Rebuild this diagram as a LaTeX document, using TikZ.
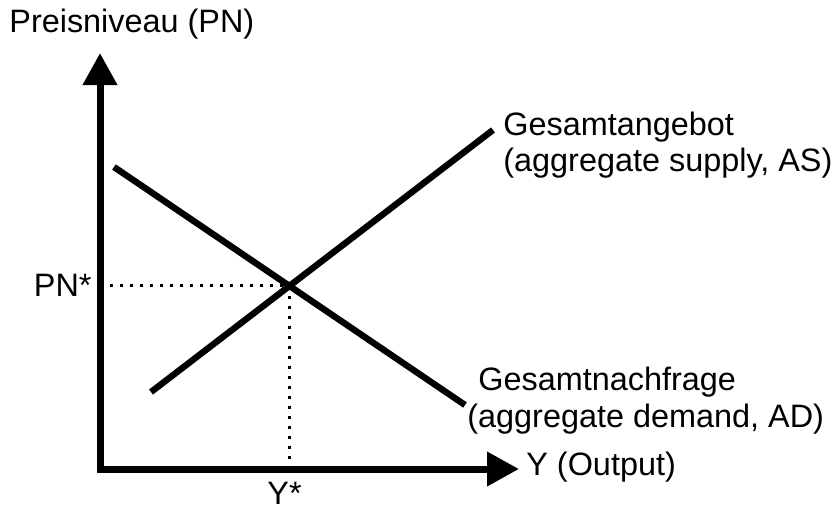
\documentclass[tikz,border=0pt]{standalone}
\usepackage{fontspec}
\setmainfont{Liberation Sans}
\usetikzlibrary{arrows.meta}

\begin{document}
\begin{tikzpicture}[x=0.5pt, y=-0.5pt,
    axis/.style={line width=3.5pt, line join=miter,
      arrows={Triangle[length=16pt, width=16.5pt]-Triangle[length=16pt, width=16.5pt]}},
    curve/.style={line width=3.2pt},
    guide/.style={line width=1.5pt, dash pattern=on 1.5pt off 3.5pt},
    label/.style={inner sep=0pt, font=\fontsize{16.2pt}{18.4pt}\selectfont}]
  \useasboundingbox (0, 0) rectangle (835, 510);
  % Axes
  \coordinate (ytip) at (100, 53);
  \coordinate (origin) at (100, 469);
  \coordinate (xtip) at (519, 469);
  \draw [axis] (ytip) -- (origin) -- (xtip);
  % Supply and demand lines
  \coordinate (as-start) at (151, 392);
  \coordinate (as-end) at (493, 130);
  \coordinate (ad-start) at (114, 167);
  \coordinate (ad-end) at (465, 405);
  \draw [curve] (as-start) -- (as-end);
  \draw [curve] (ad-start) -- (ad-end);
  % Equilibrium
  \coordinate (eq) at (intersection of as-start--as-end and ad-start--ad-end);
  \coordinate (eq-y) at (origin |- eq);
  \coordinate (eq-x) at (eq |- origin);
  \draw [guide] (eq-y) -- (eq);
  \draw [guide] (eq) -- (eq-x);
  % Axis labels
  \node [label, anchor=base west] (pn) at (9, 32) {Preisniveau (PN)};
  \node [label, anchor=base west] (output) at (526, 475) {Y (Output)};
  \node [label, anchor=base east] (pn-star) at (92, 296) {PN*};
  \node [label, anchor=base west] (y-star) at (267, 504) {Y*};
  % Curve labels
  \node [label, anchor=base west] (as-name) at (503, 135) {Gesamtangebot};
  \node [label, anchor=base west] (as-sub) at (503, 171) {(aggregate supply, AS)};
  \node [label, anchor=base west] (ad-name) at (478, 390) {Gesamtnachfrage};
  \node [label, anchor=base west] (ad-sub) at (467, 427) {(aggregate demand, AD)};
\end{tikzpicture}
\end{document}
